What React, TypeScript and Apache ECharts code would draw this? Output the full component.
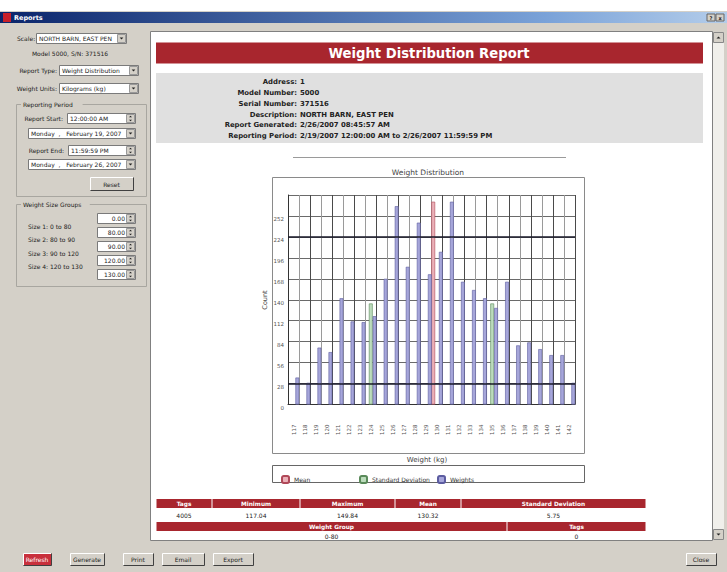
import React, { useEffect, useRef } from 'react';
import * as echarts from 'echarts';

// ---------- data ----------
const weightLabels = ['117','118','119','120','121','122','123','124','125','126','127','128','129','130','131','132','133','134','135','136','137','138','139','140','141','142'];
const weightCounts = [36, 29, 76, 70, 142, 111, 110, 118, 168, 265, 184, 243, 174, 204, 271, 164, 153, 142, 129, 164, 79, 83, 74, 66, 66, 29];
const meanBar = ['-','-','-','-','-','-','-','-','-','-','-','-','-',271,'-','-','-','-','-','-','-','-','-','-','-','-'];
const stdDevBars = ['-','-','-','-','-','-','-',135,'-','-','-','-','-','-','-','-','-','-',135,'-','-','-','-','-','-','-'];
const yMax = 280;
const yStep = 28;
const markerLines = [28, 224];

const infoLabels = ['Address:', 'Model Number:', 'Serial Number:', 'Description:', 'Report Generated:', 'Reporting Period:'];
const infoValues = ['1', '5000', '371516', 'NORTH BARN, EAST PEN', '2/26/2007 08:45:57 AM', '2/19/2007 12:00:00 AM to 2/26/2007 11:59:59 PM'];

const statHeaders = ['Tags', 'Minimum', 'Maximum', 'Mean', 'Standard Deviation'];
const statValues = ['4005', '117.04', '149.84', '130.32', '5.75'];
const groupHeaders = ['Weight Group', 'Tags'];
const groupValues = ['0-80', '0'];

const sizeLabels = ['Size 1: 0 to 80', 'Size 2: 80 to 90', 'Size 3: 90 to 120', 'Size 4: 120 to 130'];
const sizeValues = ['0.00', '80.00', '90.00', '120.00', '130.00'];
const bottomButtons = ['Refresh', 'Generate', 'Print', 'Email', 'Export'];

// ---------- helpers ----------
const FONT = '"DejaVu Sans", Verdana, sans-serif';
const GRAY = '#d4d0c8';
const RED = '#a8262e';

function txt(x: number, y: number, text: string, o: any = {}) {
  return {
    type: 'text', x, y, z: o.z ?? 50, rotation: o.rot ?? 0,
    style: {
      text, fill: o.fill ?? '#222', fontSize: o.size ?? 6.5, fontFamily: o.family ?? FONT,
      fontWeight: o.bold ? 'bold' : 'normal', align: o.align ?? 'left', verticalAlign: 'middle',
    },
  };
}
function box(x: number, y: number, w: number, h: number, fill: any, stroke: string | null = null, z = -5, lw = 1) {
  return { type: 'rect', z, shape: { x, y, width: w, height: h }, style: { fill, stroke, lineWidth: lw } };
}
function ln(x1: number, y1: number, x2: number, y2: number, stroke: string, lw = 1, z = -3) {
  return { type: 'line', z, shape: { x1, y1, x2, y2 }, style: { stroke, lineWidth: lw } };
}
function arrow(cx: number, cy: number, up: boolean, s = 2) {
  const pts = up ? [[cx - s, cy + s / 2], [cx + s, cy + s / 2], [cx, cy - s / 2]] : [[cx - s, cy - s / 2], [cx + s, cy - s / 2], [cx, cy + s / 2]];
  return { type: 'polygon', z: 10, shape: { points: pts }, style: { fill: '#222' } };
}
function field(x: number, y: number, w: number, h: number, text: string, kind: 'drop' | 'spin' | 'none', align: 'left' | 'right' = 'left') {
  const els: any[] = [box(x + 0.5, y + 0.5, w, h, '#fff', '#7a7a7a', -4)];
  if (kind !== 'none') {
    els.push(box(x + w - 8.5, y + 1.5, 8, h - 2, GRAY, '#999', -3));
    if (kind === 'drop') els.push(arrow(x + w - 4.5, y + h / 2 + 0.5, false, 1.8));
    else { els.push(arrow(x + w - 4.5, y + h / 2 - 1.5, true, 1.5)); els.push(arrow(x + w - 4.5, y + h / 2 + 2.5, false, 1.5)); }
  }
  if (align === 'left') els.push(txt(x + 3, y + h / 2 + 0.8, text, { size: 6 }));
  else els.push(txt(x + w - (kind === 'none' ? 3 : 10), y + h / 2 + 0.8, text, { size: 6, align: 'right' }));
  return els;
}
function button(x: number, y: number, w: number, h: number, label: string, fill = GRAY, color = '#222') {
  return [
    box(x + 0.5, y + 0.5, w, h, fill, null, -4),
    ln(x + 0.5, y + h + 0.5, x + w + 0.5, y + h + 0.5, '#404040'),
    ln(x + w + 0.5, y + 0.5, x + w + 0.5, y + h + 0.5, '#404040'),
    ln(x + 0.5, y + 0.5, x + w, y + 0.5, '#ffffff'),
    ln(x + 0.5, y + 0.5, x + 0.5, y + h, '#ffffff'),
    txt(x + w / 2, y + h / 2 + 0.8, label, { align: 'center', size: 6, fill: color }),
  ];
}
function groupBox(x: number, y: number, w: number, h: number, label: string) {
  return [
    box(x + 0.5, y + 0.5, w, h, null, '#a8a6a0', -4),
    box(x + 5, y - 4, label.length * 3.6 + 4, 8, GRAY, null, -3),
    txt(x + 7, y + 0.5, label, { size: 6 }),
  ];
}

function buildGraphic() {
  const els: any[] = [];
  // window
  els.push(box(0, 0, 727, 572, '#ffffff', null, -20));
  els.push(box(0, 11, 727, 561, GRAY, null, -19));
  // title bar
  els.push(box(0, 12, 727, 11, new echarts.graphic.LinearGradient(0, 0, 1, 0, [
    { offset: 0, color: '#0a246a' }, { offset: 0.75, color: '#7aa2d8' }, { offset: 1, color: '#b4cdea' },
  ]), null, -18));
  els.push(box(3, 13, 8, 9, '#c8202a', null, -10));
  els.push(txt(14, 17.8, 'Reports', { fill: '#fff', bold: true, size: 6.5 }));
  els.push(box(707, 14, 8, 7, GRAY, '#666', -10));
  els.push(box(716, 14, 8, 7, GRAY, '#666', -10));
  els.push(txt(711, 17.8, '?', { size: 5, align: 'center', bold: true }));
  els.push(txt(720, 17.8, 'x', { size: 5, align: 'center', bold: true }));

  // ---- left panel ----
  els.push(txt(17, 38.5, 'Scale:', { size: 6 }));
  els.push(...field(36, 33, 90, 10, 'NORTH BARN, EAST PEN', 'drop'));
  els.push(txt(70, 53.5, 'Model 5000, S/N: 371516', { size: 6, align: 'center' }));
  els.push(txt(57, 70.5, 'Report Type:', { size: 6, align: 'right' }));
  els.push(...field(59, 65, 79, 10, 'Weight Distribution', 'drop'));
  els.push(txt(57, 88.5, 'Weight Units:', { size: 6, align: 'right' }));
  els.push(...field(59, 83, 79, 10, 'Kilograms (kg)', 'drop'));
  els.push(...groupBox(16, 104, 130, 92, 'Reporting Period'));
  els.push(txt(63, 118.5, 'Report Start:', { size: 6, align: 'right' }));
  els.push(...field(67, 113, 68, 10, '12:00:00 AM', 'spin'));
  els.push(...field(28, 128, 107, 10, 'Monday  ,   February 19, 2007', 'drop'));
  els.push(txt(64, 150.5, 'Report End:', { size: 6, align: 'right' }));
  els.push(...field(68, 145, 67, 10, '11:59:59 PM', 'spin'));
  els.push(...field(28, 159, 107, 10, 'Monday  ,   February 26, 2007', 'drop'));
  els.push(...button(90, 177, 43, 13, 'Reset'));
  els.push(...groupBox(16, 204, 130, 82, 'Weight Size Groups'));
  const boxYs = [213, 227, 241, 255, 269];
  sizeValues.forEach((v, i) => els.push(...field(97, boxYs[i], 38, 10, v, 'spin', 'right')));
  const labYs = [226, 239, 253, 266];
  sizeLabels.forEach((s, i) => els.push(txt(28, labYs[i], s, { size: 6 })));

  // ---- right pane ----
  els.push(box(150.5, 31.5, 562, 509, '#ffffff', '#808080', -15));
  els.push(box(713, 32, 11, 508, '#f0efeb', null, -14));
  els.push(box(713.5, 32.5, 10, 10, GRAY, '#888', -13));
  els.push(arrow(718.5, 37.5, true, 2));
  els.push(box(713.5, 529.5, 10, 10, GRAY, '#888', -13));
  els.push(arrow(718.5, 534.5, false, 2));

  // report header
  els.push(box(156, 42.5, 547, 21, RED, null, -12));
  els.push(txt(429, 53.5, 'Weight Distribution Report', { fill: '#fff', bold: true, size: 13.2, align: 'center' }));
  els.push(box(156, 73, 547, 70, '#e0e0e0', null, -12));
  infoLabels.forEach((l, i) => {
    const y = 81.8 + i * 10.9;
    els.push(txt(297, y, l, { bold: true, size: 6.9, align: 'right' }));
    els.push(txt(300, y, infoValues[i], { bold: true, size: 6.9 }));
  });
  els.push(ln(293, 157.5, 566, 157.5, '#9a9a9a'));

  // chart frame
  els.push(txt(428, 172.5, 'Weight Distribution', { size: 7.5, align: 'center', fill: '#444' }));
  els.push(box(272.5, 177.5, 312, 276, '#ffffff', '#8a8a8a', -11));
  els.push(txt(265, 300, 'Count', { size: 6.5, align: 'center', rot: Math.PI / 2, fill: '#444' }));
  els.push(txt(427, 459.5, 'Weight (kg)', { size: 7, align: 'center', fill: '#444' }));
  els.push(box(272.5, 465.5, 312, 17, '#ffffff', '#666', -11));

  // tables
  const cols1 = [156, 212, 300, 395, 461, 646];
  statHeaders.forEach((h, i) => {
    const x0 = cols1[i], x1 = cols1[i + 1];
    els.push(box(x0 + 0.5, 499, x1 - x0 - 1, 9, RED, null, -10));
    els.push(txt((x0 + x1) / 2, 503.8, h, { fill: '#fff', size: 5.8, align: 'center', bold: true }));
    els.push(txt((x0 + x1) / 2, 515, statValues[i], { size: 6, align: 'center' }));
  });
  const cols2 = [156, 507, 646];
  groupHeaders.forEach((h, i) => {
    const x0 = cols2[i], x1 = cols2[i + 1];
    els.push(box(x0 + 0.5, 522, x1 - x0 - 1, 9, RED, null, -10));
    els.push(txt((x0 + x1) / 2, 526.8, h, { fill: '#fff', size: 5.8, align: 'center', bold: true }));
    els.push(txt((x0 + x1) / 2, 536, groupValues[i], { size: 6, align: 'center' }));
  });

  // bottom buttons
  const bx = [[23, 28], [70, 34], [123, 30], [162, 42], [213, 40]];
  bottomButtons.forEach((b, i) => {
    if (i === 0) els.push(...button(bx[i][0], 553, bx[i][1], 12, b, '#c8303c', '#fff'));
    else els.push(...button(bx[i][0], 553, bx[i][1], 12, b));
  });
  els.push(...button(686, 553, 30, 12, 'Close'));
  return els;
}

function buildOption(): any {
  const barBase = { type: 'bar', barWidth: 3.8, barGap: '0%' };
  return {
    animation: false,
    backgroundColor: '#ffffff',
    graphic: { elements: buildGraphic() },
    grid: { left: 288, top: 195, width: 287, height: 209.5, outerBoundsMode: 'none', containLabel: false },
    legend: [
      { data: ['Mean'], left: 276, top: 470, itemWidth: 7, itemHeight: 7, itemGap: 4, textStyle: { fontSize: 6, color: '#333', fontFamily: FONT } },
      { data: ['Standard Deviation'], left: 354, top: 470, itemWidth: 7, itemHeight: 7, itemGap: 4, textStyle: { fontSize: 6, color: '#333', fontFamily: FONT } },
      { data: ['Weights'], left: 432, top: 470, itemWidth: 7, itemHeight: 7, itemGap: 4, textStyle: { fontSize: 6, color: '#333', fontFamily: FONT } },
    ],
    xAxis: {
      type: 'category', data: weightLabels,
      axisTick: { show: false },
      axisLine: { lineStyle: { color: '#333', width: 1 } },
      axisLabel: { rotate: 90, fontSize: 5.5, margin: 20, color: '#555', interval: 0, fontFamily: FONT },
      splitLine: { show: true, interval: 0, lineStyle: { color: ['#4a4a4a', '#9a9a9a'], width: 1 } },
    },
    yAxis: {
      type: 'value', min: 0, max: yMax, interval: yStep,
      axisLine: { show: true, lineStyle: { color: '#333' } },
      axisTick: { show: false },
      axisLabel: { fontSize: 5.5, color: '#555', margin: 4, showMaxLabel: false, verticalAlign: 'top', fontFamily: FONT },
      splitLine: { show: true, lineStyle: { color: '#6a6a6a', width: 1 } },
    },
    series: [
      { ...barBase, name: 'Mean', data: meanBar, itemStyle: { color: '#eab0b8', borderColor: '#b04858', borderWidth: 0.6 } },
      { ...barBase, name: 'Standard Deviation', data: stdDevBars, itemStyle: { color: '#bcdcbc', borderColor: '#5a8a5a', borderWidth: 0.6 } },
      {
        ...barBase, name: 'Weights', data: weightCounts,
        itemStyle: { color: '#a6a6da', borderColor: '#5c5ca0', borderWidth: 0.6 },
        markLine: {
          silent: true, symbol: 'none', label: { show: false },
          lineStyle: { color: '#1a1a2a', width: 1.6, type: 'solid' },
          data: markerLines.map((v) => ({ yAxis: v })),
        },
      },
    ],
  };
}

export default function App() {
  const ref = useRef<HTMLDivElement>(null);
  useEffect(() => {
    const chart = echarts.init(ref.current!, null, { renderer: 'svg', width: 727, height: 572 });
    chart.setOption(buildOption());
    return () => chart.dispose();
  }, []);
  return <div ref={ref} style={{ position: 'fixed', left: 0, top: 0, width: 727, height: 572 }} />;
}
